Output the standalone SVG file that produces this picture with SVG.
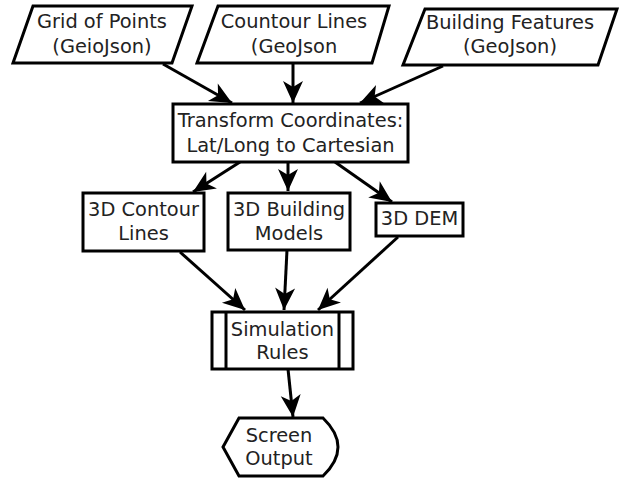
<svg xmlns="http://www.w3.org/2000/svg" width="619" height="478" viewBox="0 0 619 478">
<style>
.shape{fill:#fff;stroke:#000;stroke-width:3}
.t{font-family:"DejaVu Sans",sans-serif;font-size:19.4px;fill:#222;text-anchor:middle}
.c{stroke:#000;stroke-width:3;fill:none;marker-end:url(#ah)}
</style>
<defs>
<marker id="ah" viewBox="-23 -11 24 22" refX="0" refY="0" markerWidth="24" markerHeight="22" markerUnits="userSpaceOnUse" orient="auto">
<path d="M0,0 L-22,-10 L-16,0 L-22,10 Z" fill="#000"/>
</marker>
</defs>
<rect width="619" height="478" fill="#fff"/>
<g id="connectors">
<line class="c" x1="163" y1="64" x2="232" y2="103"/>
<line class="c" x1="293" y1="63" x2="293" y2="103"/>
<line class="c" x1="443" y1="66" x2="360" y2="103"/>
<line class="c" x1="240" y1="162" x2="193" y2="192"/>
<line class="c" x1="288" y1="162" x2="288" y2="191"/>
<line class="c" x1="335" y1="162" x2="392" y2="202"/>
<line class="c" x1="180" y1="252" x2="245" y2="310"/>
<line class="c" x1="287" y1="250" x2="284" y2="310"/>
<line class="c" x1="398" y1="237" x2="318" y2="310"/>
<line class="c" x1="288" y1="369" x2="293" y2="417"/>
</g>
<g id="grid">
<polygon class="shape" points="33,6 192,6 172,63 13,63"/>
<text class="t" x="102" y="28">Grid of Points</text>
<text class="t" x="102" y="53">(GeioJson)</text>
</g>
<g id="contour">
<polygon class="shape" points="218,6 389,6 372,63 197,63"/>
<text class="t" x="294" y="28">Countour Lines</text>
<text class="t" x="294" y="53">(GeoJson</text>
</g>
<g id="building">
<polygon class="shape" points="425,9 617,9 598,65 403,65"/>
<text class="t" x="510" y="29">Building Features</text>
<text class="t" x="510" y="53">(GeoJson)</text>
</g>
<g id="transform">
<rect class="shape" x="173" y="104" width="235" height="58"/>
<text class="t" x="290.5" y="127">Transform Coordinates:</text>
<text class="t" x="290.5" y="152">Lat/Long to Cartesian</text>
</g>
<g id="contour3d">
<rect class="shape" x="83" y="193" width="121" height="58"/>
<text class="t" x="143.5" y="216">3D Contour</text>
<text class="t" x="143.5" y="240">Lines</text>
</g>
<g id="building3d">
<rect class="shape" x="228" y="193" width="122" height="57"/>
<text class="t" x="289" y="216">3D Building</text>
<text class="t" x="289" y="240">Models</text>
</g>
<g id="dem">
<rect class="shape" x="376" y="203" width="87" height="33"/>
<text class="t" x="419.5" y="225">3D DEM</text>
</g>
<g id="simulation">
<rect class="shape" x="212" y="312" width="141" height="57"/>
<line class="shape" x1="226" y1="312" x2="226" y2="369"/>
<line class="shape" x1="339" y1="312" x2="339" y2="369"/>
<text class="t" x="282.5" y="336">Simulation</text>
<text class="t" x="282.5" y="359">Rules</text>
</g>
<g id="screen">
<path class="shape" d="M223,447 L239,418 L323,418 Q353,447 323,476 L239,476 Z"/>
<text class="t" x="279" y="442">Screen</text>
<text class="t" x="279" y="465">Output</text>
</g>
</svg>
